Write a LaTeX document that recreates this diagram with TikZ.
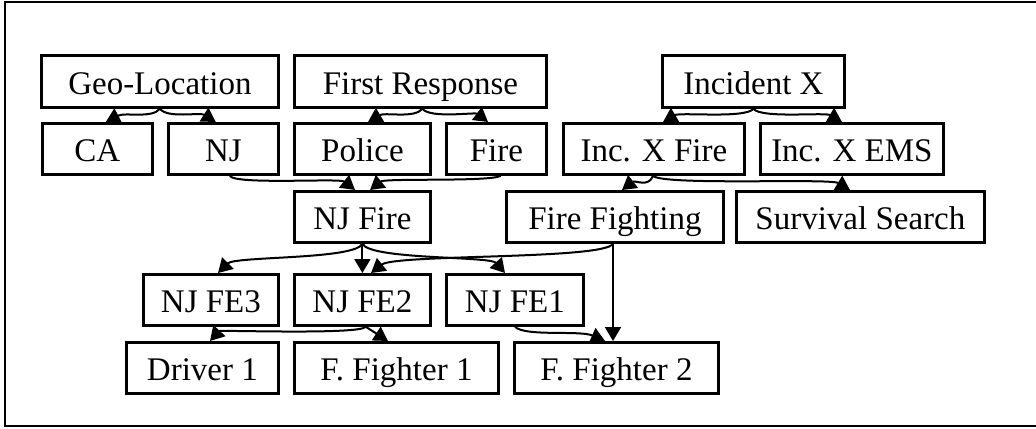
\documentclass[tikz,border=0pt]{standalone}
\usepackage{fontspec}
\setmainfont{Liberation Serif}
\usetikzlibrary{arrows.meta}
\begin{document}
\begin{tikzpicture}[x=0.5pt,y=-0.5pt,
  box/.style={draw,line width=1.4pt,inner sep=0pt,anchor=north west,
    text height=13pt,text depth=0pt,font=\fontsize{16.5}{18}\selectfont},
  link/.style={line width=1pt,-{Triangle[length=7pt,width=8pt]}}]
\useasboundingbox (0,0) rectangle (1036,428);
\draw[line width=1pt] (5,2) rectangle (1050,426);
% boxes: name, corner, width, height, text
\newcommand{\bx}[6]{\node[box,minimum width=#4*0.5pt,minimum height=#5*0.5pt] (#1) at (#2,#3) {#6};}
\bx{geo}{40}{54}{237}{52}{Geo-Location}
\bx{fr}{293}{54}{252}{52}{First Response}
\bx{inc}{661}{54}{182}{52}{Incident X}
\bx{ca}{41}{122}{110}{51}{CA}
\bx{nj}{167}{122}{110}{51}{NJ}
\bx{pol}{293}{122}{136}{51}{Police}
\bx{fire}{445}{122}{100}{51}{Fire}
\bx{ixf}{562}{122}{181}{51}{Inc. X Fire}
\bx{ixe}{759}{122}{183}{51}{Inc. X EMS}
\bx{njf}{293}{190}{136}{51}{NJ Fire}
\bx{ff}{505}{190}{217}{51}{Fire Fighting}
\bx{ss}{735}{190}{248}{51}{Survival Search}
\bx{fe3}{142}{273}{135}{51}{NJ FE3}
\bx{fe2}{293}{273}{136}{51}{NJ FE2}
\bx{fe1}{445}{273}{137}{51}{NJ FE1}
\bx{dr}{125}{341}{152}{51}{Driver 1}
\bx{f1}{293}{341}{204}{51}{F. Fighter 1}
\bx{f2}{513}{341}{204}{51}{F. Fighter 2}
% connectors
\draw[link] (geo.south) .. controls +(-8,10) and (125,112) .. ([xshift=-48*0.5pt]ca.north east);
\draw[link] (geo.south) .. controls +(8,10) and (200,112) .. ([xshift=-64*0.5pt]nj.north east);
\draw[link] ([xshift=2*0.5pt]fr.south) .. controls +(-8,10) and (385,112) .. ([xshift=75*0.5pt]pol.north west);
\draw[link] ([xshift=2*0.5pt]fr.south) .. controls +(8,10) and (475,112) .. ([xshift=43*0.5pt]fire.north west);
\draw[link] ([xshift=-50*0.5pt]nj.south east) .. controls (235,185) and (340,178) .. ([xshift=62*0.5pt]njf.north west);
\draw[link] ([xshift=-47*0.5pt]fire.south east) .. controls (490,182) and (385,178) .. ([xshift=77*0.5pt]njf.north west);
\draw[link] (inc.south) .. controls +(-8,10) and (680,112) .. ([xshift=101*0.5pt]ixf.north west);
\draw[link] (inc.south) .. controls +(8,10) and (825,112) .. ([xshift=83*0.5pt]ixe.north west);
\draw[link] ([xshift=-1*0.5pt]ixf.south) .. controls +(-4,12) and (635,180) .. ([xshift=117*0.5pt]ff.north west);
\draw[link] ([xshift=-1*0.5pt]ixf.south) .. controls +(10,10) and (830,178) .. ([xshift=115*0.5pt]ss.north west);
\draw[link] (njf.south) .. controls +(-8,16) and (235,256) .. ([xshift=76*0.5pt]fe3.north west);
\draw[link] (njf.south) -- (fe2.north);
\draw[link] (njf.south) .. controls +(8,16) and (490,256) .. ([xshift=60*0.5pt]fe1.north west);
\draw[link] ([xshift=108*0.5pt]ff.south west) .. controls +(-10,16) and (395,254) .. ([xshift=78*0.5pt]fe2.north west);
\draw[link] ([xshift=108*0.5pt]ff.south west) -- ([xshift=100*0.5pt]f2.north west);
\draw[link] ([xshift=-66*0.5pt]fe2.south east) .. controls +(-6,8) and (220,330) .. ([xshift=85*0.5pt]dr.north west);
\draw[link] ([xshift=-66*0.5pt]fe2.south east) -- ([xshift=95*0.5pt]f1.north west);
\draw[link] ([xshift=70*0.5pt]fe1.south west) .. controls +(10,10) and (580,330) .. ([xshift=92*0.5pt]f2.north west);
\end{tikzpicture}
\end{document}
